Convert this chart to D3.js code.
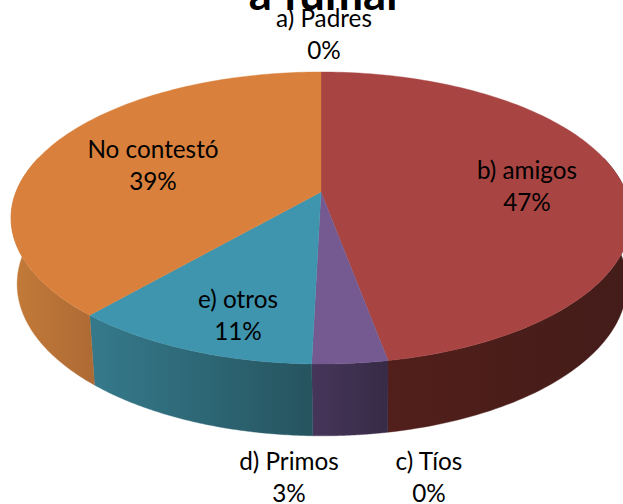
<!DOCTYPE html>
<html><head><meta charset="utf-8">
<script src="https://cdn.jsdelivr.net/npm/d3@7"></script>
<style>html,body{margin:0;padding:0;background:#fff;overflow:hidden}
text{font-family:Lato,"Open Sans",sans-serif;fill:#000}</style></head>
<body><svg id="c" width="623" height="504" style="display:block"></svg>
<script>
const categories=["b) amigos","c) Tíos","d) Primos","e) otros","No contestó","a) Padres"];
const values=[47.1,0,3.3,11,38.6,0];
const topColors=["#a84543","#8d5a3c","#745a90","#3f94ae","#d9813c","#3f6fa8"];
const wallLeft=["#521f1b","#4a2020","#46355a","#357a8c","#c47b39","#333333"];
const wallRight=["#431c19","#431c19","#372b46","#26545f","#ad6a34","#333333"];
const labelPos=[[527,179],[429,470],[289,470],[238,308],[153,158],[324,27]];
const lineStep=32;
const svg=d3.select("#c");
const defs=svg.append("defs");

// perspective projection of the unit disc onto the page: top face and base
const P=0.178;
const face={x0:321,y0:192,bx:305,by:141.4};
const base={x0:322,y0:257,bx:300,by:147};
const proj=(f,a)=>{const u=Math.sin(a),v=Math.cos(a),w=1+P*v;return [f.x0+f.bx*u/w,f.y0-f.by*v/w];};
const pie=d3.pie().value(d=>d).sort(null)(values);
const line=d3.line();
const samples=(a0,a1,n)=>d3.range(n+1).map(i=>a0+(a1-a0)*i/n);
const g=svg.append("g");

// outer wall: between the rim of the top face and the rim of the base
const wallStart=Math.PI*0.42,wallEnd=Math.PI*1.58;
pie.forEach((s,i)=>{
  const start=Math.max(s.startAngle,wallStart),end=Math.min(s.endAngle,wallEnd);
  if(end<=start)return;
  const as=samples(start,end,80);
  const top=as.map(a=>proj(face,a));
  const bot=as.map(a=>proj(base,a)).reverse();
  const all=top.concat(bot);
  const id="w"+i;
  const gr=defs.append("linearGradient").attr("id",id).attr("gradientUnits","userSpaceOnUse")
    .attr("x1",d3.min(all,p=>p[0])).attr("x2",d3.max(all,p=>p[0])).attr("y1",0).attr("y2",0);
  gr.append("stop").attr("offset",0).attr("stop-color",wallLeft[i]);
  gr.append("stop").attr("offset",1).attr("stop-color",wallRight[i]);
  g.append("path").attr("d",line(all)+"Z").attr("fill",`url(#${id})`).attr("stroke",`url(#${id})`).attr("stroke-width",.4);
});

// top faces
const apex=[face.x0,face.y0];
pie.forEach((s,i)=>{
  if(s.endAngle<=s.startAngle)return;
  const pts=samples(s.startAngle,s.endAngle,140).map(a=>proj(face,a));
  g.append("path").attr("d",line([apex,...pts])+"Z").attr("fill",topColors[i]).attr("stroke",topColors[i]).attr("stroke-width",.4);
});

// title, cut by the top of the page as in the reference
svg.append("text").attr("x",326).attr("y",10).attr("text-anchor","middle")
  .attr("font-size",45.5).attr("font-weight",700).text("a fumar");

// labels
categories.forEach((c,i)=>{
  const [x,y]=labelPos[i];
  const t=svg.append("text").attr("text-anchor","middle").attr("font-size",24.3);
  t.append("tspan").attr("x",x).attr("y",y).text(c);
  t.append("tspan").attr("x",x).attr("y",y+lineStep).text(Math.round(values[i])+"%");
});
</script></body></html>
